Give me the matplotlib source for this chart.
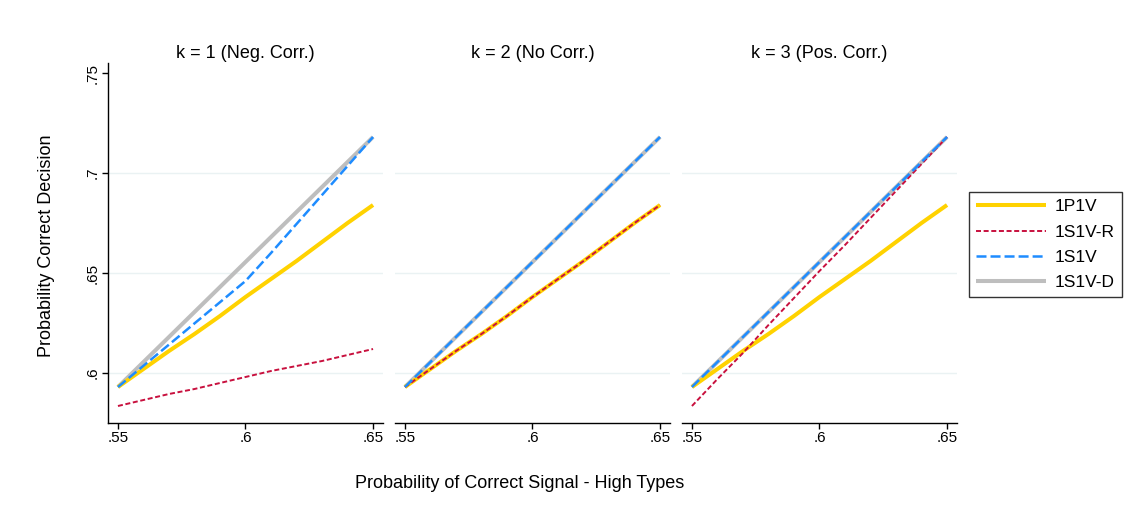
import matplotlib
matplotlib.use("Agg")
import matplotlib.pyplot as plt

plt.rcParams['font.family'] = ['Liberation Sans', 'DejaVu Sans']
plt.rcParams['lines.scale_dashes'] = False

# signal precision of high types
signal_p = [0.55, 0.56, 0.57, 0.58, 0.59, 0.60, 0.61, 0.62, 0.63, 0.64, 0.65]

panel_titles = ["k = 1 (Neg. Corr.)", "k = 2 (No Corr.)", "k = 3 (Pos. Corr.)"]

# k = 1
k1_1p1v = [0.593, 0.602, 0.611, 0.6195, 0.6285, 0.638, 0.647, 0.656, 0.6655, 0.675, 0.684]
k1_1s1v_r = [0.5835, 0.5865, 0.5895, 0.592, 0.595, 0.598, 0.601, 0.6035, 0.606, 0.609, 0.612]
k1_1s1v = [0.593, 0.6036, 0.6142, 0.6248, 0.6354, 0.646, 0.660, 0.6745, 0.689, 0.7035, 0.718]
k1_1s1v_d = [0.593, 0.6055, 0.618, 0.6305, 0.643, 0.6555, 0.668, 0.6805, 0.693, 0.7055, 0.718]

# k = 2
k2_1p1v = [0.593, 0.602, 0.611, 0.6195, 0.6285, 0.638, 0.647, 0.656, 0.6655, 0.675, 0.684]
k2_1s1v_r = [0.593, 0.602, 0.611, 0.6195, 0.6285, 0.638, 0.647, 0.656, 0.6655, 0.675, 0.684]
k2_1s1v = [0.593, 0.6055, 0.618, 0.6305, 0.643, 0.6555, 0.668, 0.6805, 0.693, 0.7055, 0.718]
k2_1s1v_d = [0.593, 0.6055, 0.618, 0.6305, 0.643, 0.6555, 0.668, 0.6805, 0.693, 0.7055, 0.718]

# k = 3
k3_1p1v = [0.593, 0.602, 0.611, 0.6195, 0.6285, 0.638, 0.647, 0.656, 0.6655, 0.675, 0.684]
k3_1s1v_r = [0.5835, 0.597, 0.610, 0.624, 0.6375, 0.651, 0.664, 0.6775, 0.691, 0.7045, 0.718]
k3_1s1v = [0.593, 0.6055, 0.618, 0.6305, 0.643, 0.6555, 0.668, 0.6805, 0.693, 0.7055, 0.718]
k3_1s1v_d = [0.593, 0.6055, 0.618, 0.6305, 0.643, 0.6555, 0.668, 0.6805, 0.693, 0.7055, 0.718]

panels = [
    (k1_1p1v, k1_1s1v_r, k1_1s1v, k1_1s1v_d),
    (k2_1p1v, k2_1s1v_r, k2_1s1v, k2_1s1v_d),
    (k3_1p1v, k3_1s1v_r, k3_1s1v, k3_1s1v_d),
]

x_ticks = [0.55, 0.60, 0.65]
x_ticklabels = [".55", ".6", ".65"]
y_ticks = [0.60, 0.65, 0.70, 0.75]
y_ticklabels = [".6", ".65", ".7", ".75"]
grid_y = [0.60, 0.65, 0.70]

YELLOW = "#FFD200"
RED = "#C8103E"
BLUE = "#1E8CFF"
GRAY = "#BEBEBE"

W, H = 1135, 523
fig = plt.figure(figsize=(W / 100, H / 100), dpi=100)

lefts = [108, 395, 682]
ax_w = 275
top, bottom = 63, 423

for i, (left, title, series) in enumerate(zip(lefts, panel_titles, panels)):
    ax = fig.add_axes([left / W, 1 - bottom / H, ax_w / W, (bottom - top) / H])
    yel, red, blu, gry = series

    for gy in grid_y:
        ax.axhline(gy, color="#EAF2F3", lw=1.0, zorder=0)

    h_d, = ax.plot(signal_p, gry, color=GRAY, lw=2.9, solid_capstyle="butt", zorder=2)
    h_y, = ax.plot(signal_p, yel, color=YELLOW, lw=2.9, solid_capstyle="butt", zorder=3)
    h_r, = ax.plot(signal_p, red, color=RED, lw=1.4, dashes=(3.6, 1.9), zorder=4)
    h_b, = ax.plot(signal_p, blu, color=BLUE, lw=1.8, dashes=(7.2, 2.9), zorder=5)

    ax.set_xlim(0.5461, 0.6539)
    ax.set_ylim(0.575, 0.755)
    ax.set_xticks(x_ticks)
    ax.set_xticklabels(x_ticklabels, fontsize=11)
    ax.tick_params(axis="x", length=4, width=1, pad=2)

    for s in ["top", "right"]:
        ax.spines[s].set_visible(False)
    ax.spines["bottom"].set_linewidth(1.0)

    if i == 0:
        ax.set_yticks(y_ticks)
        ax.set_yticklabels(y_ticklabels, fontsize=11, rotation=90, va="center")
        ax.tick_params(axis="y", length=4, width=1, pad=2)
        ax.spines["left"].set_linewidth(1.0)
    else:
        ax.spines["left"].set_visible(False)
        ax.set_yticks([])

    fig.text((left + ax_w / 2) / W, 1 - 53 / H, title, fontsize=13, ha="center", va="center")

fig.text(47 / W, 1 - 246 / H, "Probability Correct Decision", fontsize=13,
         rotation=90, ha="center", va="center")
fig.text(520 / W, 1 - 483 / H, "Probability of Correct Signal - High Types", fontsize=13,
         ha="center", va="center")

leg = fig.legend([h_y, h_r, h_b, h_d], ["1P1V", "1S1V-R", "1S1V", "1S1V-D"],
                 loc="upper left", bbox_to_anchor=(969 / W, 1 - 192 / H),
                 fontsize=12.5, handlelength=4.0, handletextpad=0.5,
                 labelspacing=0.58, borderpad=0.42, borderaxespad=0,
                 fancybox=False, frameon=True)
leg.get_frame().set_edgecolor("black")
leg.get_frame().set_linewidth(1.0)

fig.savefig("out.png", dpi=100)
